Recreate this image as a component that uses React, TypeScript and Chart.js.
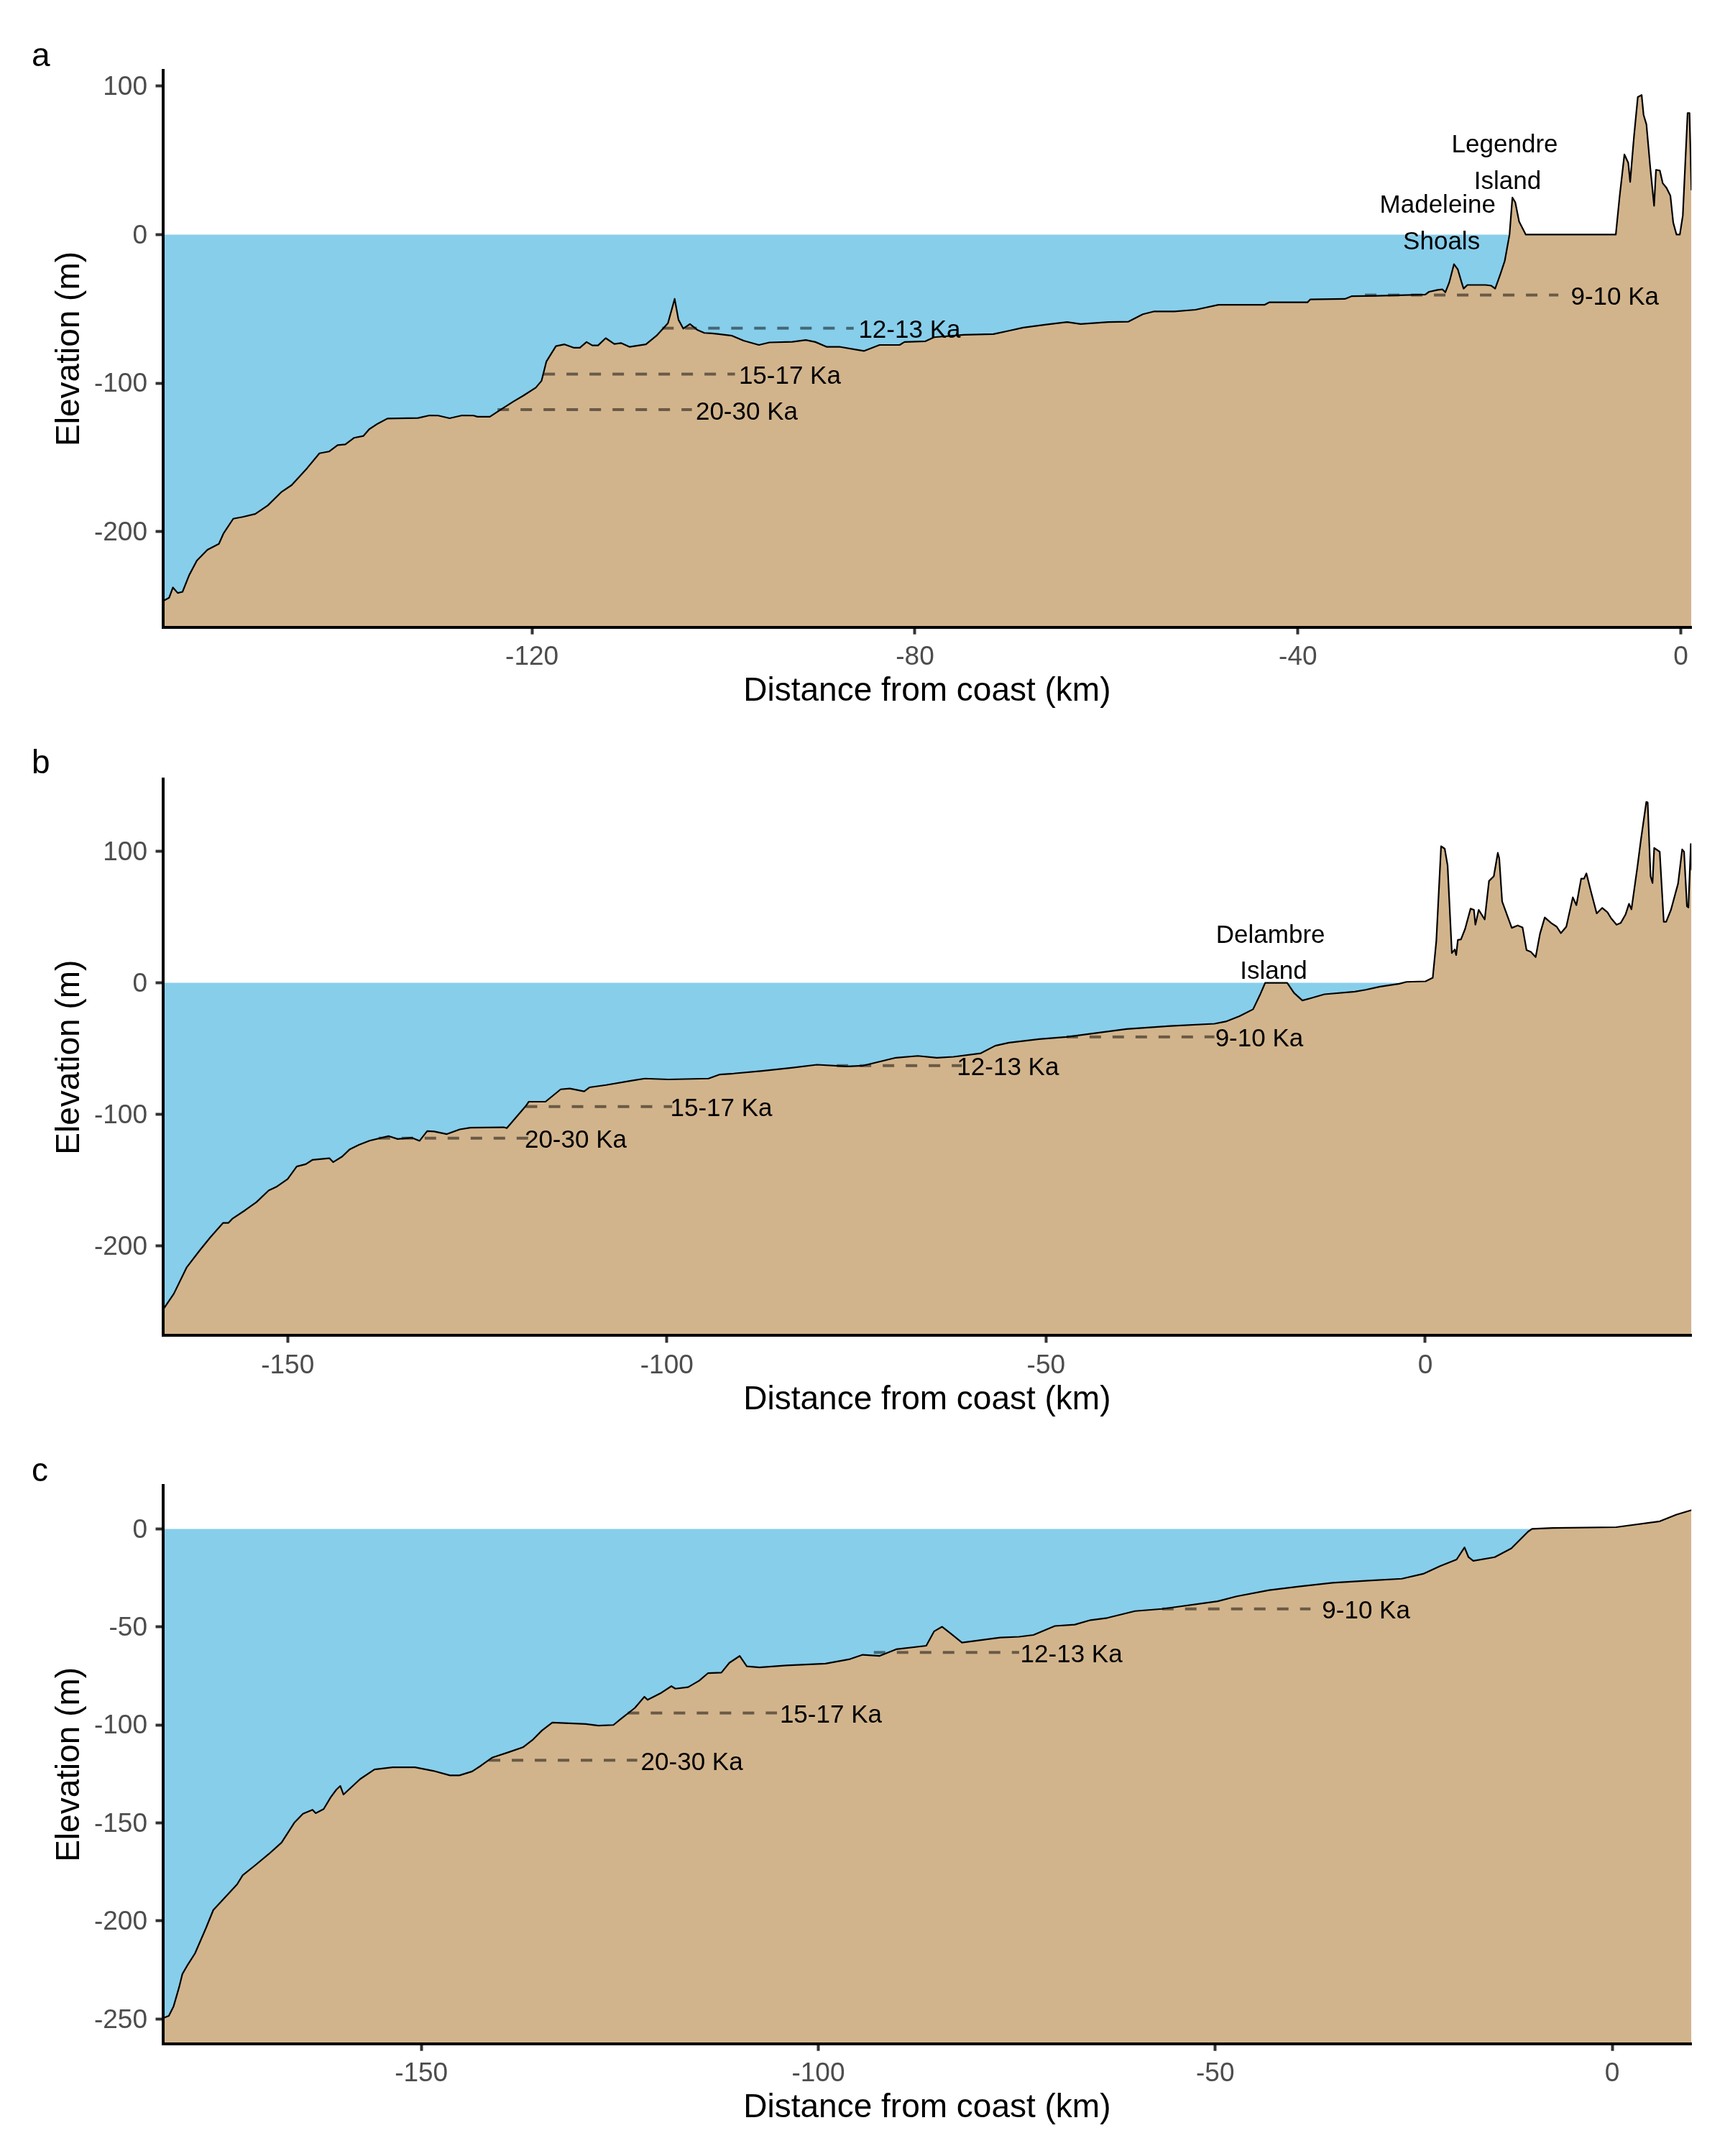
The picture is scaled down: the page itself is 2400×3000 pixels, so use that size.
import React, { useEffect, useRef } from "react";
import { Chart, registerables } from "chart.js";

Chart.register(...registerables);

const FONT = "'Liberation Sans', Arial, Helvetica, sans-serif";
const SEA_COLOR = "#87CEEB";
const LAND_COLOR = "#D2B48C";
const DASH_COLOR = "rgba(0,0,0,0.5)";

const SHORE_LABELS = ["20-30 Ka", "15-17 Ka", "12-13 Ka", "9-10 Ka"];

// ---------------- Panel a ----------------
const aDistance = [
  -158.6, -157.9, -157.5, -157.0, -156.5, -155.8, -155.0, -153.9, -152.7, -152.2,
  -151.2, -150.2, -148.9, -147.6, -146.2, -145.1, -143.5, -142.2, -141.2, -140.3,
  -139.5, -138.6, -137.6, -137.0, -136.1, -135.1, -131.9, -130.7, -129.8, -128.6,
  -127.3, -126.1, -125.7, -124.4, -123.2, -121.9, -120.9, -119.6, -119.0, -118.5,
  -117.5, -116.6, -115.6, -115.0, -114.3, -113.7, -113.1, -112.3, -111.4, -110.7,
  -109.8, -108.1, -107.0, -105.8, -105.1, -104.7, -104.2, -103.5, -102.7, -102.0,
  -101.2, -100.5, -99.1, -97.9, -96.3, -95.2, -92.8, -91.4, -90.4, -89.2,
  -87.8, -86.1, -85.3, -83.7, -81.6, -81.1, -78.9, -78.0, -74.9, -71.8,
  -70.1, -68.7, -66.3, -64.1, -62.7, -59.8, -57.7, -56.2, -55.0, -52.9,
  -50.7, -48.3, -43.5, -43.0, -39.0, -38.7, -35.1, -34.4, -31.7, -26.7,
  -26.3, -25.4, -24.9, -24.6, -24.2, -23.7, -23.3, -22.9, -22.7, -22.3,
  -20.4, -19.8, -19.4, -18.9, -18.4, -17.9, -17.6, -17.3, -16.9, -16.2,
  -6.8, -6.4, -5.9, -5.5, -5.3, -4.9, -4.5, -4.1, -3.9, -3.6,
  -3.2, -2.8, -2.6, -2.2, -1.9, -1.5, -1.1, -0.8, -0.46, -0.11,
  0.2, 0.7, 0.9, 1.1,
];
const aElevation = [
  -246.8, -244.4, -237.5, -241.2, -240.4, -229.1, -219.4, -212.1, -208.1, -200.9,
  -191.2, -190.0, -188.0, -182.3, -173.4, -168.6, -157.3, -147.2, -146.0, -141.7,
  -141.2, -136.8, -135.5, -131.0, -127.2, -123.8, -123.4, -121.7, -121.8, -123.6,
  -121.7, -121.8, -122.6, -122.6, -117.5, -112.2, -108.4, -103.0, -98.4, -85.5,
  -75.1, -73.9, -76.2, -76.2, -72.3, -74.6, -74.6, -69.7, -73.6, -73.0,
  -75.6, -73.9, -68.1, -59.7, -43.3, -57.3, -63.3, -60.2, -64.3, -66.2,
  -66.5, -67.0, -68.1, -71.4, -74.3, -72.6, -72.2, -71.0, -72.3, -75.6,
  -75.6, -77.5, -78.3, -74.3, -74.3, -72.3, -71.8, -69.1, -67.5, -67.0,
  -64.6, -62.6, -60.6, -58.9, -60.2, -58.9, -58.6, -53.6, -51.7, -51.7,
  -50.6, -47.3, -47.3, -45.6, -45.6, -43.6, -43.3, -41.5, -41.2, -40.4,
  -38.5, -37.2, -36.9, -38.8, -32.3, -19.9, -23.5, -32.3, -36.4, -33.9,
  -33.9, -34.4, -36.4, -27.5, -17.8, 0.0, 24.9, 21.7, 8.8, 0.0,
  0.0, 25.7, 53.9, 48.3, 35.4, 66.0, 92.6, 93.9, 80.6, 74.1,
  45.1, 19.3, 43.5, 43.1, 34.6, 31.4, 26.2, 8.0, 0.0, 0.0,
  12.8, 81.8, 81.8, 29.8,
];
const aXTicks = [-120, -80, -40, 0];
const aYTicks = [-200, -100, 0, 100];
const aShoreElevation = [-117.8, -93.9, -63.0, -40.7];
const aShoreFrom = [-123.6, -118.8, -106.4, -33.0];
const aShoreTo = [-103.3, -98.8, -86.4, -12.8];
const aShoreTextAt = [-102.9, -98.4, -85.9, -11.5];
const aPlaceLabels = ["Legendre", "Island", "Madeleine", "Shoals"];
const aPlaceX = [-18.4, -18.1, -25.4, -25.0];
const aPlaceY = [61.7, 37.3, 21.5, -3.3];

// ---------------- Panel b ----------------
const bDistance = [
  -166.4, -165.0, -163.3, -161.6, -160.2, -158.5, -157.8, -157.3, -155.6, -154.1,
  -152.5, -151.5, -150.0, -148.8, -147.6, -146.7, -144.5, -144.0, -142.8, -141.8,
  -140.6, -139.2, -136.7, -135.5, -133.6, -132.6, -131.6, -130.7, -129.0, -127.3,
  -125.9, -121.5, -121.1, -118.6, -118.2, -116.0, -114.0, -112.8, -110.9, -110.2,
  -108.0, -104.6, -102.9, -99.8, -94.5, -93.0, -91.2, -87.4, -83.4, -80.2,
  -76.2, -74.1, -69.8, -66.9, -64.4, -62.2, -58.6, -56.7, -54.9, -50.9,
  -47.3, -43.0, -39.4, -33.6, -27.8, -26.3, -24.5, -22.7, -21.8, -21.1,
  -18.2, -17.3, -16.2, -15.1, -13.3, -9.3, -7.85, -5.96, -3.43, -2.48,
  0.04, 0.99, 1.46, 2.09, 2.57, 2.95, 3.51, 3.89, 4.08, 4.30,
  4.71, 5.25, 5.98, 6.42, 6.61, 7.05, 7.84, 8.41, 9.04, 9.57,
  9.76, 10.14, 11.41, 12.19, 12.83, 13.36, 13.93, 14.56, 15.13, 15.76,
  16.61, 17.34, 17.88, 18.60, 19.46, 19.93, 20.56, 20.94, 21.25, 21.82,
  22.61, 23.34, 24.03, 24.51, 25.23, 25.77, 26.40, 26.87, 27.19, 27.98,
  28.45, 29.15, 29.33, 29.71, 29.97, 30.19, 30.92, 31.45, 31.77, 32.40,
  33.34, 33.88, 34.13, 34.51, 34.70, 35.02, 35.14,
];
const bElevation = [
  -247.9, -236.1, -216.0, -203.3, -193.3, -182.3, -182.3, -179.2, -172.7, -166.5,
  -157.7, -155.0, -149.0, -139.5, -137.7, -134.4, -133.2, -136.2, -131.9, -126.4,
  -123.1, -119.9, -116.4, -118.6, -117.7, -120.0, -112.6, -112.9, -114.9, -111.3,
  -110.0, -109.7, -110.4, -93.6, -90.3, -90.3, -80.9, -80.3, -82.5, -79.4,
  -77.6, -74.3, -72.7, -73.4, -72.7, -69.6, -68.9, -66.9, -64.5, -62.2,
  -63.5, -62.9, -56.9, -55.5, -56.9, -56.2, -53.5, -47.8, -45.5, -42.8,
  -41.1, -37.8, -35.1, -32.8, -31.1, -29.4, -25.4, -20.1, -9.3, 0.0,
  0.0, -7.7, -13.4, -11.7, -8.7, -6.7, -5.3, -2.9, -0.7, 0.7,
  1.1, 3.8, 31.7, 103.7, 101.8, 89.1, 22.6, 25.3, 21.1, 32.6,
  33.0, 40.8, 56.3, 55.4, 44.1, 55.4, 48.1, 77.3, 80.9, 98.7,
  94.6, 61.8, 41.7, 43.6, 42.1, 24.8, 23.5, 19.5, 37.2, 49.6,
  45.4, 42.6, 37.7, 42.6, 64.9, 59.0, 79.1, 79.1, 83.1, 70.0,
  52.7, 56.9, 53.6, 49.0, 44.1, 45.4, 51.7, 60.0, 55.8, 88.2,
  109.1, 137.4, 137.0, 80.9, 75.8, 102.4, 99.5, 46.3, 46.3, 55.4,
  75.4, 101.3, 99.5, 58.1, 57.2, 105.5, 85.5,
];
const bXTicks = [-150, -100, -50, 0];
const bYTicks = [-200, -100, 0, 100];
const bShoreElevation = [-118.0, -94.0, -62.9, -41.1];
const bShoreFrom = [-138.0, -118.6, -77.6, -47.3];
const bShoreTo = [-118.1, -99.3, -61.1, -27.8];
const bShoreTextAt = [-118.75, -99.55, -61.75, -27.7];
const bPlaceLabels = ["Delambre", "Island"];
const bPlaceX = [-20.4, -20.0];
const bPlaceY = [37.8, 10.4];

// ---------------- Panel c ----------------
const cDistance = [
  -182.5, -181.8, -181.2, -180.5, -180.1, -179.4, -178.5, -177.1, -176.2, -174.5,
  -173.2, -172.5, -170.9, -169.2, -167.6, -166.0, -164.9, -163.7, -163.3, -162.3,
  -161.4, -160.7, -160.2, -159.8, -157.7, -155.9, -153.6, -150.8, -148.5, -146.4,
  -145.2, -143.6, -142.5, -141.1, -139.0, -137.2, -136.0, -134.8, -133.5, -129.3,
  -127.7, -125.8, -124.9, -123.1, -121.9, -121.5, -119.9, -118.5, -118.0, -116.4,
  -115.0, -113.9, -112.2, -111.2, -109.9, -109.0, -107.4, -104.0, -99.1, -96.0,
  -94.4, -92.3, -90.2, -86.4, -85.4, -84.4, -83.3, -81.9, -77.1, -74.7,
  -72.9, -70.2, -67.7, -65.7, -63.6, -60.1, -56.7, -49.7, -47.3, -43.2,
  -39.3, -35.2, -30.7, -26.5, -23.8, -21.7, -19.6, -18.6, -18.1, -17.5,
  -14.8, -12.7, -10.6, -10.1, -7.5, 0.5, 6.0, 8.1, 10.0,
];
const cElevation = [
  -249.5, -248.4, -243.5, -233.7, -227.1, -222.2, -216.5, -203.4, -194.4, -187.0,
  -181.3, -176.7, -171.5, -165.8, -160.0, -149.9, -145.3, -143.3, -145.0, -142.9,
  -136.8, -133.0, -131.1, -135.5, -127.6, -122.7, -121.6, -121.6, -123.4, -125.7,
  -125.7, -123.7, -120.8, -116.7, -113.9, -111.4, -107.7, -102.8, -98.8, -99.5,
  -100.3, -100.0, -97.0, -91.3, -85.6, -87.2, -83.9, -80.2, -81.5, -80.7,
  -77.4, -73.6, -73.3, -68.3, -64.8, -70.1, -70.6, -69.6, -68.7, -66.4,
  -64.2, -64.8, -61.4, -59.6, -52.2, -49.9, -53.4, -58.0, -55.4, -55.0,
  -54.1, -49.5, -48.8, -46.5, -45.4, -41.9, -40.8, -36.9, -34.4, -31.2,
  -29.3, -27.5, -26.4, -25.4, -22.9, -19.0, -15.6, -9.4, -14.4, -16.3,
  -14.4, -9.9, -1.4, 0.0, 0.5, 0.9, 3.9, 7.3, 9.6,
];
const cXTicks = [-150, -100, -50, 0];
const cYTicks = [-250, -200, -150, -100, -50, 0];
const cShoreElevation = [-118.0, -93.9, -63.0, -40.8];
const cShoreFrom = [-141.5, -124.0, -93.0, -56.7];
const cShoreTo = [-122.8, -105.2, -74.7, -38.0];
const cShoreTextAt = [-122.35, -104.85, -74.55, -36.55];
const cPlaceLabels: string[] = [];
const cPlaceX: number[] = [];
const cPlaceY: number[] = [];

// ---------------- layout ----------------
const CANVAS_W = 2400;
const CANVAS_H = 1000;
const Y_AXIS_W = 226.5;
const X_AXIS_H = 115.6;
const RIGHT_PAD = 46.7;
const TEXT_SHIFT = 4; // px, vertical nudge of annotation text

const PANELS = [
  {
    letter: "a", top: 0, padTop: 98.2, padBottom: 11.7, letterY: 92,
    xMin: -158.56, xMax: 1.1, yMin: -264.2, yMax: 110.35,
    distance: aDistance, elevation: aElevation, xTicks: aXTicks, yTicks: aYTicks,
    shoreElevation: aShoreElevation, shoreFrom: aShoreFrom, shoreTo: aShoreTo, shoreTextAt: aShoreTextAt,
    placeLabels: aPlaceLabels, placeX: aPlaceX, placeY: aPlaceY,
  },
  {
    letter: "b", top: 1000, padTop: 83.9, padBottom: 26.0, letterY: 76,
    xMin: -166.46, xMax: 35.1, yMin: -267.9, yMax: 154.8,
    distance: bDistance, elevation: bElevation, xTicks: bXTicks, yTicks: bYTicks,
    shoreElevation: bShoreElevation, shoreFrom: bShoreFrom, shoreTo: bShoreTo, shoreTextAt: bShoreTextAt,
    placeLabels: bPlaceLabels, placeX: bPlaceX, placeY: bPlaceY,
  },
  {
    letter: "c", top: 2000, padTop: 66.9, padBottom: 40.65, letterY: 60.6,
    xMin: -182.56, xMax: 9.98, yMin: -262.6, yMax: 22.2,
    distance: cDistance, elevation: cElevation, xTicks: cXTicks, yTicks: cYTicks,
    shoreElevation: cShoreElevation, shoreFrom: cShoreFrom, shoreTo: cShoreTo, shoreTextAt: cShoreTextAt,
    placeLabels: cPlaceLabels, placeX: cPlaceX, placeY: cPlaceY,
  },
];

type Panel = (typeof PANELS)[number];

function ProfilePanel({ panel }: { panel: Panel }) {
  const ref = useRef<HTMLCanvasElement>(null);

  useEffect(() => {
    const canvas = ref.current;
    if (!canvas) return;
    const p = panel;

    const profile = p.distance.map((x, i) => ({ x, y: p.elevation[i] }));

    const datasets: any[] = [
      {
        label: "sea",
        data: [
          { x: p.xMin, y: 0 },
          { x: p.xMax, y: 0 },
        ],
        borderColor: "rgba(0,0,0,0)",
        borderWidth: 0,
        backgroundColor: SEA_COLOR,
        fill: "start",
        pointRadius: 0,
        order: 3,
      },
      {
        label: "profile",
        data: profile,
        borderColor: "#000000",
        borderWidth: 2.2,
        borderJoinStyle: "round",
        backgroundColor: LAND_COLOR,
        fill: "start",
        pointRadius: 0,
        tension: 0,
        order: 2,
      },
    ];

    SHORE_LABELS.forEach((_, i) => {
      datasets.push({
        label: "shore" + i,
        data: [
          { x: p.shoreFrom[i], y: p.shoreElevation[i] },
          { x: p.shoreTo[i], y: p.shoreElevation[i] },
        ],
        borderColor: DASH_COLOR,
        borderWidth: 4,
        borderDash: [16, 16],
        borderCapStyle: "butt",
        fill: false,
        pointRadius: 0,
        order: 1,
      });
    });

    const textPlugin = {
      id: "profileText" + p.letter,
      afterDatasetsDraw(chart: any) {
        const { ctx } = chart;
        const xs = chart.scales.x;
        const ys = chart.scales.y;
        ctx.save();
        ctx.fillStyle = "#000000";
        ctx.font = `35px ${FONT}`;
        ctx.textBaseline = "middle";
        ctx.textAlign = "left";
        SHORE_LABELS.forEach((t, i) => {
          ctx.fillText(
            t,
            xs.getPixelForValue(p.shoreTextAt[i]),
            ys.getPixelForValue(p.shoreElevation[i]) + TEXT_SHIFT
          );
        });
        ctx.textAlign = "center";
        p.placeLabels.forEach((t, i) => {
          ctx.fillText(t, xs.getPixelForValue(p.placeX[i]), ys.getPixelForValue(p.placeY[i]) + TEXT_SHIFT);
        });
        ctx.font = `46px ${FONT}`;
        ctx.textAlign = "left";
        ctx.textBaseline = "alphabetic";
        ctx.fillText(p.letter, 44, p.letterY);
        ctx.restore();
      },
    };

    const chart = new Chart(canvas, {
      type: "line",
      data: { datasets },
      plugins: [textPlugin],
      options: {
        animation: false,
        responsive: false,
        devicePixelRatio: 1,
        events: [],
        layout: {
          padding: { top: p.padTop, bottom: p.padBottom, left: 0, right: RIGHT_PAD },
        },
        plugins: {
          legend: { display: false },
          tooltip: { enabled: false },
        },
        scales: {
          x: {
            type: "linear",
            min: p.xMin,
            max: p.xMax,
            afterBuildTicks: (s: any) => {
              s.ticks = p.xTicks.map((v) => ({ value: v }));
            },
            afterFit: (s: any) => {
              s.height = X_AXIS_H;
            },
            grid: {
              display: true,
              drawOnChartArea: false,
              drawTicks: true,
              tickLength: 10,
              tickWidth: 4,
              tickColor: "#333333",
            },
            border: { display: true, color: "#000000", width: 4, z: 1 },
            ticks: {
              autoSkip: false,
              maxRotation: 0,
              minRotation: 0,
              padding: 10,
              color: "#4D4D4D",
              font: { family: FONT, size: 37 },
              callback: (v: any) => String(v),
            },
            title: {
              display: true,
              text: "Distance from coast (km)",
              color: "#000000",
              font: { family: FONT, size: 46 },
              padding: { top: 0, bottom: -2 },
            },
          },
          y: {
            type: "linear",
            min: p.yMin,
            max: p.yMax,
            afterBuildTicks: (s: any) => {
              s.ticks = p.yTicks.map((v) => ({ value: v }));
            },
            afterFit: (s: any) => {
              s.width = Y_AXIS_W;
            },
            grid: {
              display: true,
              drawOnChartArea: false,
              drawTicks: true,
              tickLength: 10,
              tickWidth: 4,
              tickColor: "#333333",
            },
            border: { display: true, color: "#000000", width: 4, z: 1 },
            ticks: {
              autoSkip: false,
              padding: 11.5,
              labelOffset: 2,
              color: "#4D4D4D",
              font: { family: FONT, size: 37 },
              callback: (v: any) => String(v),
            },
            title: {
              display: true,
              text: "Elevation (m)",
              color: "#000000",
              font: { family: FONT, size: 46 },
              padding: { top: 69.4, bottom: 0 },
            },
          },
        },
      } as any,
    });

    return () => {
      chart.destroy();
    };
  }, [panel]);

  return (
    <canvas
      ref={ref}
      width={CANVAS_W}
      height={CANVAS_H}
      style={{
        position: "absolute",
        left: 0,
        top: panel.top,
        width: CANVAS_W,
        height: CANVAS_H,
        display: "block",
      }}
    />
  );
}

export default function App() {
  return (
    <div
      style={{
        position: "absolute",
        left: 0,
        top: 0,
        width: 2400,
        height: 3000,
        background: "#ffffff",
        overflow: "hidden",
      }}
    >
      {PANELS.map((p) => (
        <ProfilePanel key={p.letter} panel={p} />
      ))}
    </div>
  );
}
